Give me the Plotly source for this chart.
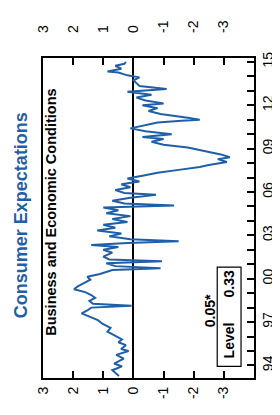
import plotly.graph_objects as go

# ---- data (decimal years, index values) ----
dates = [1993.27, 1993.67, 1993.93, 1994.13, 1994.47, 1994.73, 1995.0, 1995.13, 1995.4, 1995.6,
         1995.8, 1996.07, 1996.33, 1996.6, 1996.87, 1997.13, 1997.4, 1997.6, 1997.8, 1998.0,
         1998.13, 1998.27, 1998.47, 1998.67, 1998.87, 1999.07, 1999.27, 1999.47, 1999.67, 1999.93,
         2000.13, 2000.33, 2000.6, 2000.73, 2000.87, 2001.07, 2001.2, 2001.33, 2001.53, 2001.8,
         2002.0, 2002.2, 2002.33, 2002.47, 2002.6, 2002.73, 2002.93, 2003.13, 2003.33, 2003.53,
         2003.73, 2003.93, 2004.13, 2004.33, 2004.53, 2004.73, 2004.93, 2005.07, 2005.2, 2005.4,
         2005.6, 2005.8, 2005.93, 2006.13, 2006.33, 2006.53, 2006.73, 2006.93, 2007.13, 2007.33,
         2007.53, 2007.73, 2007.87, 2008.07, 2008.27, 2008.4, 2008.6, 2008.73, 2008.87, 2009.07,
         2009.27, 2009.47, 2009.67, 2009.8, 2010.0, 2010.2, 2010.4, 2010.6, 2010.8, 2010.93,
         2011.0, 2011.13, 2011.27, 2011.4, 2011.6, 2011.8, 2012.0, 2012.13, 2012.33, 2012.53,
         2012.73, 2012.93, 2013.13, 2013.33, 2013.53, 2013.73, 2013.93, 2014.07, 2014.27, 2014.33,
         2014.53, 2014.73, 2014.87, 2015.0]
values = [0.48, 0.7, 0.38, 0.64, 0.32, 0.57, 0.16, 0.41, 0.25, 0.5,
          0.38, 0.64, 0.86, 0.76, 1.02, 1.18, 1.53, 1.72, 1.53, 1.4,
          0.06, 1.34, 1.46, 1.27, 1.4, 1.6, 1.97, 1.85, 1.66, 1.43,
          1.53, 1.11, 0.7, -0.9, 0.6, 0.9, -0.95, 0.8, 1.0, 0.7,
          1.0, 0.5, 1.4, 0.2, -1.5, 0.1, 0.8, 0.4, 1.2, 0.6,
          1.0, 0.2, 0.7, 0.1, 0.9, 0.5, 1.0, -1.35, 0.3, 0.7,
          0.1, -0.75, 0.3, 0.6, 0.1, 0.4, -0.2, 0.2, -0.3, -0.8,
          -1.5, -2.2, -2.5, -3.1, -2.8, -3.2, -2.9, -2.6, -2.2, -1.8,
          -1.0, -0.6, -1.0, -0.3, -1.27, -0.4, 0.1, -0.3, -0.8, -1.6,
          -2.2, -1.8, -1.3, -0.9, -0.5, -0.8, -0.3, -1.0, -0.4, -0.1,
          -0.6, 0.2, -1.1, -0.2, -0.1, 0.0, -0.2, 0.2, 0.5, 0.86,
          0.4, 0.6, 0.3, 0.25]

value_ticks = [3, 2, 1, 0, -1, -2, -3]
value_tick_labels = ["3", "2", "1", "0", "-1", "-2", "-3"]
label_years = [1994, 1997, 2000, 2003, 2006, 2009, 2012, 2015]
year_labels = ["94", "97", "00", "03", "06", "09", "12", "15"]
minor_years = list(range(1994, 2016))

title_text = "Consumer Expectations"
subtitle_text = "Business and Economic Conditions"
sig_text = "0.05*"
level_text = "Level"
level_value = "0.33"

BLUE = "#1f5fa8"
FONT = "Liberation Sans, Arial, sans-serif"

fig = go.Figure()
fig.add_trace(go.Scatter(x=values, y=dates, mode="lines",
                         line=dict(color=BLUE, width=2), hoverinfo="skip", showlegend=False))
fig.add_trace(go.Scatter(x=values, y=dates, xaxis="x2", mode="lines",
                         line=dict(color="rgba(0,0,0,0)", width=0), hoverinfo="skip", showlegend=False))

axis_common = dict(showgrid=False, showline=True, linecolor="black", linewidth=2,
                   ticks="inside", ticklen=7, tickcolor="black", tickwidth=1.5,
                   tickangle=-90, tickfont=dict(family=FONT, size=14, color="black"))

fig.update_layout(
    width=280, height=415,
    margin=dict(l=35, r=23, t=38, b=45),
    paper_bgcolor="white", plot_bgcolor="white",
    showlegend=False, hovermode=False,
    xaxis=dict(range=[3, -4.0], tickmode="array", tickvals=value_ticks, ticktext=value_tick_labels,
               mirror=True, zeroline=True, zerolinecolor="black", zerolinewidth=1.5,
               ticklabelstandoff=1, **axis_common),
    xaxis2=dict(range=[3, -4.0], overlaying="x", side="top", tickmode="array",
                tickvals=value_ticks, ticktext=value_tick_labels, zeroline=False,
                showgrid=False, showline=False, ticks="inside", ticklen=7, tickcolor="black",
                tickwidth=1.5, tickangle=-90, tickfont=dict(family=FONT, size=14, color="black"),
                ticklabelstandoff=24),
    yaxis=dict(range=[1993.13, 2015.27], side="right", tickmode="array", tickvals=label_years,
               ticktext=year_labels, mirror=True, zeroline=False,
               minor=dict(tickvals=minor_years, ticks="inside", ticklen=7, tickcolor="black", tickwidth=1.5),
               **axis_common),
)

fig.add_annotation(text="<b>%s</b>" % title_text, xref="paper", yref="paper",
                   x=-0.104, y=0.509, xanchor="center", yanchor="middle", textangle=-90, showarrow=False,
                   font=dict(family=FONT, size=18, color=BLUE))
fig.add_annotation(text="<b>%s</b>" % subtitle_text, xref="paper", yref="paper",
                   x=0.0405, y=0.518, xanchor="center", yanchor="middle", textangle=-90, showarrow=False,
                   font=dict(family=FONT, size=14.5, color="black"))
fig.add_annotation(text="<b>%s</b>" % sig_text, xref="x", yref="y",
                   x=-2.53, y=1997.8, xanchor="center", yanchor="middle", textangle=-90, showarrow=False,
                   font=dict(family=FONT, size=14, color="black"))
fig.add_shape(type="rect", xref="x", yref="y", x0=-2.78, x1=-3.57, y0=1993.93, y1=2000.8,
              line=dict(color="black", width=1.2), fillcolor="white")
fig.add_annotation(text="<b>%s</b>" % level_text, xref="x", yref="y",
                   x=-3.17, y=1995.73, xanchor="center", yanchor="middle", textangle=-90, showarrow=False,
                   font=dict(family=FONT, size=14, color="black"))
fig.add_annotation(text="<b>%s</b>" % level_value, xref="x", yref="y",
                   x=-3.17, y=1999.67, xanchor="center", yanchor="middle", textangle=-90, showarrow=False,
                   font=dict(family=FONT, size=14, color="black"))

fig.write_html("out.html")
